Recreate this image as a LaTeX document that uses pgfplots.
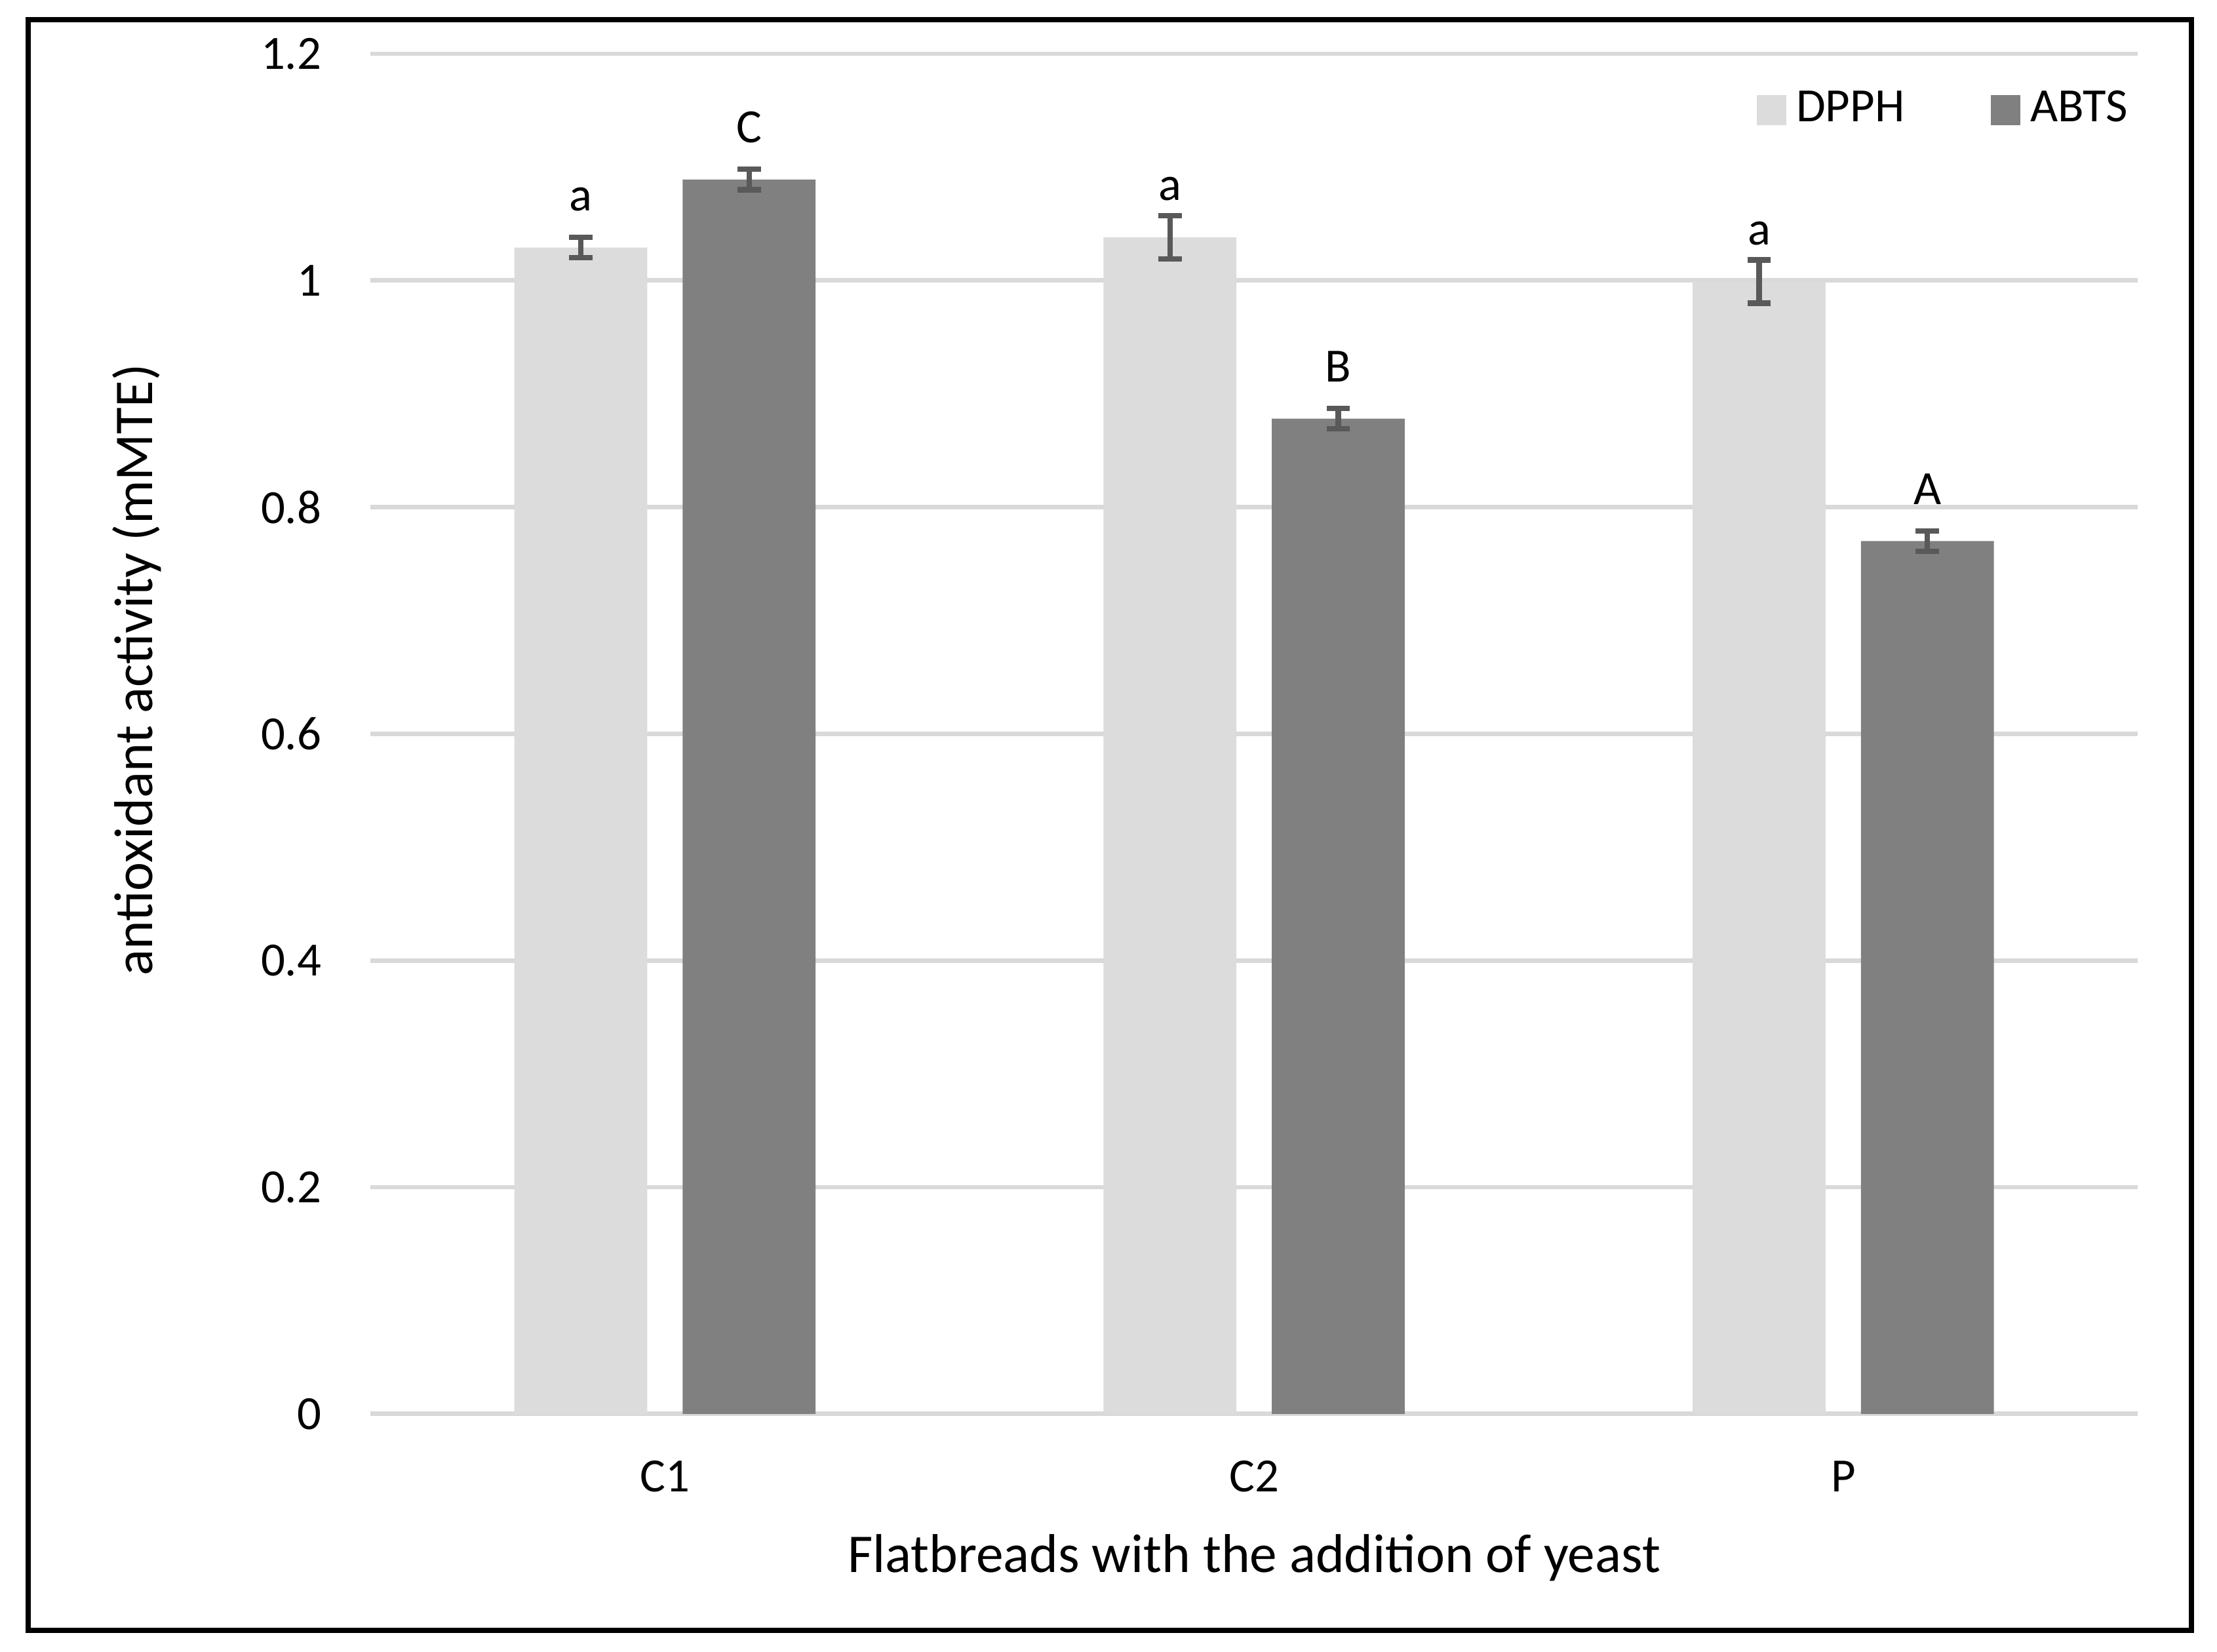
\documentclass[border=0pt]{standalone}
\usepackage{pgfplots}
\pgfplotsset{compat=1.18}
\usepackage{pgfplotstable}
\usepackage{fontspec}
\setmainfont{Carlito}

\definecolor{dpph}{HTML}{DCDCDC}
\definecolor{abts}{HTML}{808080}
\definecolor{errc}{HTML}{595959}
\definecolor{gridc}{HTML}{D9D9D9}

% x = category, y = mean, e = error, l = letter
\pgfplotstableread{
x y e l
0 1.029 0.009 a
1 1.038 0.019 a
2 0.999 0.019 a
}\dpphdata

\pgfplotstableread{
x y e l
0 1.089 0.009 C
1 0.878 0.009 B
2 0.770 0.009 A
}\abtsdata

\begin{document}
\begin{tikzpicture}
\begin{axis}[
    scale only axis,
    width=125mm, height=96.2mm,
    xmin=-0.5, xmax=2.5,
    ymin=0, ymax=1.2,
    ybar=2.5mm, bar width=9.4mm,
    xtick={0,1,2}, xticklabels={C1,C2,P},
    ytick={0,0.2,0.4,0.6,0.8,1,1.2},
    axis line style={draw=none},
    major tick length=0pt,
    ymajorgrids,
    grid style={gridc, line width=0.9pt},
    /pgf/number format/assume math mode=true,
    ticklabel style={font=\fontsize{9.6}{11}\selectfont, inner sep=0pt},
    xticklabel style={anchor=base, yshift=-5.5mm},
    yticklabel style={anchor=east, xshift=-3.4mm},
    xlabel={Flatbreads with the addition of yeast},
    ylabel={antioxidant activity (mMTE)},
    label style={font=\fontsize{11}{13}\selectfont, inner sep=0pt},
    xlabel style={at={(rel axis cs:0.5,0)}, anchor=base, yshift=-11.2mm},
    ylabel style={at={(rel axis cs:-0.132,0.547)}, anchor=center},
    legend style={draw=none, fill=none, legend columns=2,
        at={(rel axis cs:1.009,0.988)}, anchor=north east,
        font=\fontsize{9.6}{11}\selectfont,
        /tikz/every even column/.append style={column sep=5.4mm}},
    legend image code/.code={\fill[#1] (0mm,-1.05mm) rectangle (2.1mm,1.05mm);},
    error bars/y dir=both, error bars/y explicit,
    error bars/error bar style={errc, line width=1.1pt},
    error bars/error mark options={errc, rotate=90, mark size=0.83mm, line width=1.1pt},
    nodes near coords,
    point meta=explicit symbolic,
    nodes near coords style={anchor=base, yshift=2.6mm, text=black,
        font=\fontsize{9.6}{11}\selectfont, inner sep=0pt},
    clip=false,
]
\addplot[fill=dpph, draw=none] table[x=x, y=y, y error=e, meta=l] {\dpphdata};
\addlegendentry{DPPH}
\addplot[fill=abts, draw=none] table[x=x, y=y, y error=e, meta=l] {\abtsdata};
\addlegendentry{ABTS}

% outer frame and white margin
\path (rel axis cs:-0.2096,-0.1746) rectangle (rel axis cs:1.0448,1.0395);
\draw[black, line width=1.1pt] (rel axis cs:-0.1936,-0.159) rectangle (rel axis cs:1.0304,1.02495);
\end{axis}
\end{tikzpicture}
\end{document}
